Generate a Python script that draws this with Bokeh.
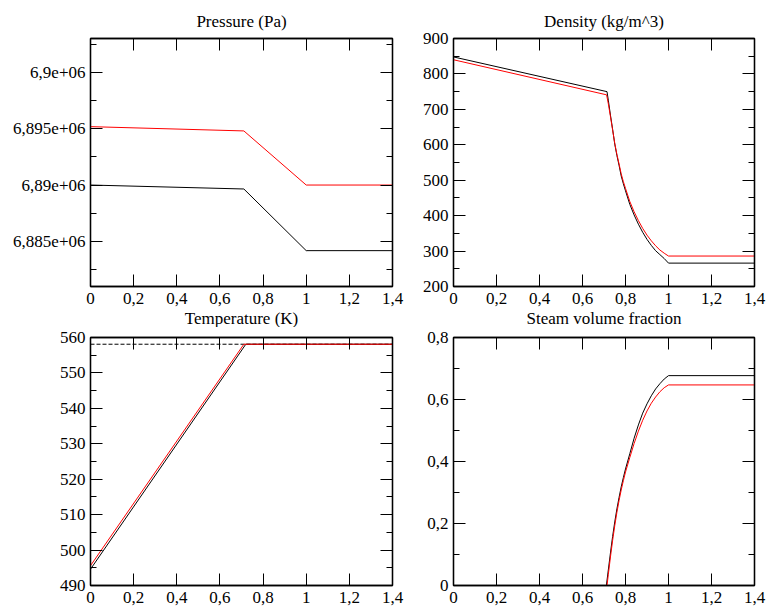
from bokeh.plotting import figure
from bokeh.layouts import gridplot
from bokeh.models import LinearAxis, FixedTicker, CustomJSTickFormatter, Title
from bokeh.embed import file_html
from bokeh.resources import INLINE

# ---------------- data ----------------
x_ticks = [0, 0.2, 0.4, 0.6, 0.8, 1.0, 1.2, 1.4]
titles = ["Pressure (Pa)", "Density (kg/m^3)", "Temperature (K)", "Steam volume fraction"]

# Pressure (Pa)
p_x = [0.0, 0.711, 1.0, 1.4]
p_black = [6.89e6, 6.88965e6, 6.88418e6, 6.88418e6]
p_red = [6.89518e6, 6.8948e6, 6.89e6, 6.89e6]
p_major = [6.885e6, 6.89e6, 6.895e6, 6.9e6]
p_minor = [6.8825e6, 6.8875e6, 6.8925e6, 6.8975e6, 6.9025e6]

# Density (kg/m^3)
rho_x_black = [0.0, 0.714, 0.72, 0.73, 0.74, 0.75, 0.76, 0.77, 0.78, 0.79, 0.80,
               0.82, 0.84, 0.86, 0.88, 0.90, 0.92, 0.94, 0.96, 0.98, 1.0, 1.4]
rho_black = [848, 750, 726, 684, 644, 602, 570, 542, 512, 490, 470,
             432, 402, 376, 353, 333, 316, 301, 290, 279, 266, 266]
rho_x_red = [0.0, 0.712, 0.72, 0.73, 0.74, 0.75, 0.76, 0.77, 0.78, 0.79, 0.80,
             0.82, 0.84, 0.86, 0.88, 0.90, 0.92, 0.94, 0.96, 0.98, 1.0, 1.4]
rho_red = [840, 741, 716, 680, 642, 604, 573, 546, 518, 496, 477,
           440, 411, 386, 364, 345, 329, 315, 303, 294, 286, 286]
rho_major = [200, 300, 400, 500, 600, 700, 800, 900]
rho_minor = [250, 350, 450, 550, 650, 750, 850]

# Temperature (K)
t_x_black = [0.0, 0.72, 1.4]
t_black = [494.6, 558.1, 558.1]
t_x_red = [0.0, 0.711, 1.4]
t_red = [495.6, 558.1, 558.1]
t_sat_x = [0.0, 1.4]
t_sat = [558.1, 558.1]
t_major = [490, 500, 510, 520, 530, 540, 550, 560]
t_minor = [495, 505, 515, 525, 535, 545, 555]

# Steam volume fraction
a_x_black = [0.0, 0.711, 0.72, 0.73, 0.74, 0.75, 0.76, 0.77, 0.78, 0.79, 0.80,
             0.82, 0.84, 0.86, 0.88, 0.90, 0.92, 0.94, 0.96, 0.98, 1.0, 1.4]
a_black = [0.0, 0.0, 0.05, 0.105, 0.158, 0.205, 0.247, 0.284, 0.318, 0.348, 0.376,
           0.425, 0.475, 0.518, 0.556, 0.586, 0.612, 0.634, 0.651, 0.666, 0.677, 0.677]
a_x_red = [0.0, 0.714, 0.72, 0.73, 0.74, 0.75, 0.76, 0.77, 0.78, 0.79, 0.80,
           0.82, 0.84, 0.86, 0.88, 0.90, 0.92, 0.94, 0.96, 0.98, 1.0, 1.4]
a_red = [0.0, 0.0, 0.035, 0.092, 0.145, 0.193, 0.236, 0.274, 0.308, 0.338, 0.366,
         0.413, 0.458, 0.498, 0.533, 0.563, 0.588, 0.608, 0.625, 0.638, 0.647, 0.647]
a_major = [0, 0.2, 0.4, 0.6, 0.8]
a_minor = [0.1, 0.3, 0.5, 0.7]

FONT = "Liberation Serif"
FS = "17px"

x_fmt_code = """
var s = tick.toFixed(1);
if (s.endsWith('.0')) { s = s.slice(0, -2); }
return s.replace('.', ',');
"""
y_dec_code = """
var s = (Math.round(tick * 1000) / 1000).toString();
return s.replace('.', ',');
"""
p_fmt_code = """
var v = Math.round(tick / 1000) / 1000;
return v.toString().replace('.', ',') + 'e+06';
"""
blank_code = "return '';"


def style_axis(ax, ticker, code, show_labels):
    ax.ticker = ticker
    ax.formatter = CustomJSTickFormatter(code=code if show_labels else blank_code)
    ax.major_tick_in = 12
    ax.major_tick_out = 0
    ax.minor_tick_in = 6
    ax.minor_tick_out = 0
    ax.major_tick_line_color = "black"
    ax.minor_tick_line_color = "black"
    ax.axis_line_color = "black"
    ax.axis_line_width = 1.3
    ax.major_label_text_font = FONT
    ax.major_label_text_color = "black"
    ax.major_label_text_font_size = FS
    if not show_labels:
        ax.major_label_standoff = 0


def make_title(text, standoff):
    return Title(text=text, align="center", standoff=standoff, text_font=FONT,
                 text_font_size=FS, text_font_style="normal", text_color="black")


def make_fig(yr, ymaj, ymin, ycode, w, h, bl, br, bt, bb):
    p = figure(width=w, height=h, x_range=(0, 1.4), y_range=yr,
               output_backend="svg", toolbar_location=None,
               min_border_left=bl, min_border_right=br,
               min_border_top=bt, min_border_bottom=bb)
    p.grid.visible = False
    p.outline_line_color = "black"
    p.outline_line_width = 1.3
    p.background_fill_color = "white"
    p.border_fill_color = "white"
    style_axis(p.xaxis[0], FixedTicker(ticks=x_ticks, minor_ticks=[]), x_fmt_code, True)
    p.xaxis[0].major_label_standoff = 6
    style_axis(p.yaxis[0], FixedTicker(ticks=ymaj, minor_ticks=ymin), ycode, True)
    top = LinearAxis()
    style_axis(top, FixedTicker(ticks=x_ticks, minor_ticks=[]), x_fmt_code, False)
    p.add_layout(top, "above")
    right = LinearAxis()
    style_axis(right, FixedTicker(ticks=ymaj, minor_ticks=ymin), ycode, False)
    p.add_layout(right, "right")
    return p


# upper row: own title above, lower panel's title below the tick labels
p1 = make_fig((6.881e6, 6.903e6), p_major, p_minor, p_fmt_code,
              404, 327, 90, 12, 38, 40)
p1.add_layout(make_title(titles[0], 16), "above")
p1.add_layout(make_title(titles[2], 0), "below")
p1.line(p_x, p_black, line_color="black", line_width=1)
p1.line(p_x, p_red, line_color="#ff0000", line_width=1)

p2 = make_fig((200, 900), rho_major, rho_minor, y_dec_code,
              363, 327, 49, 13, 38, 40)
p2.add_layout(make_title(titles[1], 16), "above")
p2.add_layout(make_title(titles[3], 0), "below")
p2.line(rho_x_black, rho_black, line_color="black", line_width=1)
p2.line(rho_x_red, rho_red, line_color="#ff0000", line_width=1)

p3 = make_fig((490, 560), t_major, t_minor, y_dec_code,
              404, 285, 90, 12, 10, 27)
p3.line(t_sat_x, t_sat, line_color="black", line_width=1, line_dash="4 2")
p3.line(t_x_black, t_black, line_color="black", line_width=1)
p3.line(t_x_red, t_red, line_color="#ff0000", line_width=1)

p4 = make_fig((0, 0.8), a_major, a_minor, y_dec_code,
              363, 285, 49, 13, 10, 27)
p4.line(a_x_black, a_black, line_color="black", line_width=1)
p4.line(a_x_red, a_red, line_color="#ff0000", line_width=1)

grid = gridplot([[p1, p2], [p3, p4]], toolbar_location=None)

open("out.html", "w").write(file_html(grid, INLINE))
